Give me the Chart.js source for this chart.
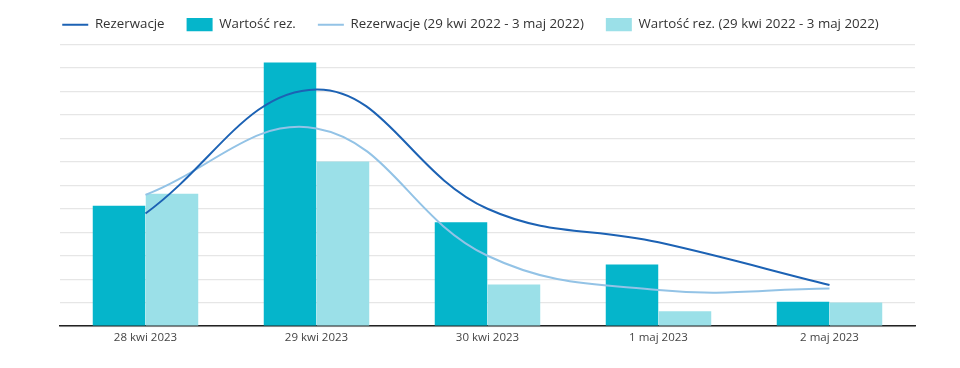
<!DOCTYPE html>
<html>
<head>
<meta charset="utf-8">
<script src="https://cdn.jsdelivr.net/npm/chart.js@4/dist/chart.umd.min.js"></script>
<style>
    html, body { margin: 0; padding: 0; background: #ffffff; }
    #wrap { width: 960px; height: 368px; position: relative; }
</style>
</head>
<body>
<div id="wrap"><canvas id="chart"></canvas></div>
<script>
    const categories = ["28 kwi 2023", "29 kwi 2023", "30 kwi 2023", "1 maj 2023", "2 maj 2023"];
    const rezerwacje = [4.8, 10.08, 5.0, 3.57, 1.75];
    const wartosc = [5.13, 11.23, 4.42, 2.63, 1.04];
    const rezerwacjePrev = [5.59, 8.42, 3.0, 1.54, 1.6];
    const wartoscPrev = [5.64, 7.01, 1.78, 0.64, 1.01];
    const prevRange = "(29 kwi 2022 - 3 maj 2022)";

    const fontFamily = "'Open Sans', 'Noto Sans', sans-serif";

    // legend: one row, a bit higher and more to the left than Chart.js puts it
    const legendTweak = {
        id: "legendTweak",
        beforeInit(chart) {
            const fit = chart.legend.fit;
            chart.legend.fit = function () {
                this.maxWidth = chart.width;
                fit.call(this);
                this.height += 3;
            };
        },
        afterLayout(chart) {
            chart.legend.left = -17;
            chart.legend.right = chart.width - 2;
        },
    };

    new Chart(document.getElementById("chart"), {
        data: {
            labels: categories,
            datasets: [
                {
                    type: "line",
                    label: "Rezerwacje",
                    data: rezerwacje,
                    borderColor: "#1c62b4",
                    backgroundColor: "#1c62b4",
                    borderWidth: 2,
                    pointRadius: 0,
                    tension: 0.4,
                    pointStyle: "line",
                    order: 0,
                },
                {
                    type: "bar",
                    label: "Wartość rez.",
                    data: wartosc,
                    backgroundColor: "#05b5cb",
                    borderWidth: 0,
                    pointStyle: "rect",
                    order: 1,
                },
                {
                    type: "line",
                    label: "Rezerwacje " + prevRange,
                    data: rezerwacjePrev,
                    borderColor: "#93c3e6",
                    backgroundColor: "#93c3e6",
                    borderWidth: 2,
                    pointRadius: 0,
                    tension: 0.4,
                    pointStyle: "line",
                    order: 0,
                },
                {
                    type: "bar",
                    label: "Wartość rez. " + prevRange,
                    data: wartoscPrev,
                    backgroundColor: "#9be0e8",
                    borderWidth: 0,
                    pointStyle: "rect",
                    order: 1,
                },
            ],
        },
        options: {
            responsive: true,
            maintainAspectRatio: false,
            animation: false,
            datasets: {
                bar: {
                    barPercentage: 0.99,
                    categoryPercentage: 0.62,
                },
            },
            layout: {
                padding: { top: -4, left: 60, right: 45, bottom: 18 },
            },
            plugins: {
                legend: {
                    position: "top",
                    labels: {
                        usePointStyle: true,
                        boxHeight: 14,
                        boxWidth: 26,
                        pointStyleWidth: 26,
                        padding: 22,
                        color: "#333333",
                        font: { family: fontFamily, size: 13.3 },
                        sort: (a, b) => a.datasetIndex - b.datasetIndex,
                    },
                },
                tooltip: { enabled: false },
            },
            scales: {
                x: {
                    grid: { display: false, drawTicks: false },
                    border: { display: true, color: "#222222", width: 1.5 },
                    ticks: {
                        color: "#444444",
                        font: { family: fontFamily, size: 11.5 },
                        padding: 5,
                    },
                },
                y: {
                    min: 0,
                    max: 12,
                    ticks: { display: false, stepSize: 1 },
                    border: { display: false },
                    grid: { color: "#e6e6e6", lineWidth: 1.2, drawTicks: false },
                },
            },
        },
        plugins: [legendTweak],
    });
</script>
</body>
</html>
